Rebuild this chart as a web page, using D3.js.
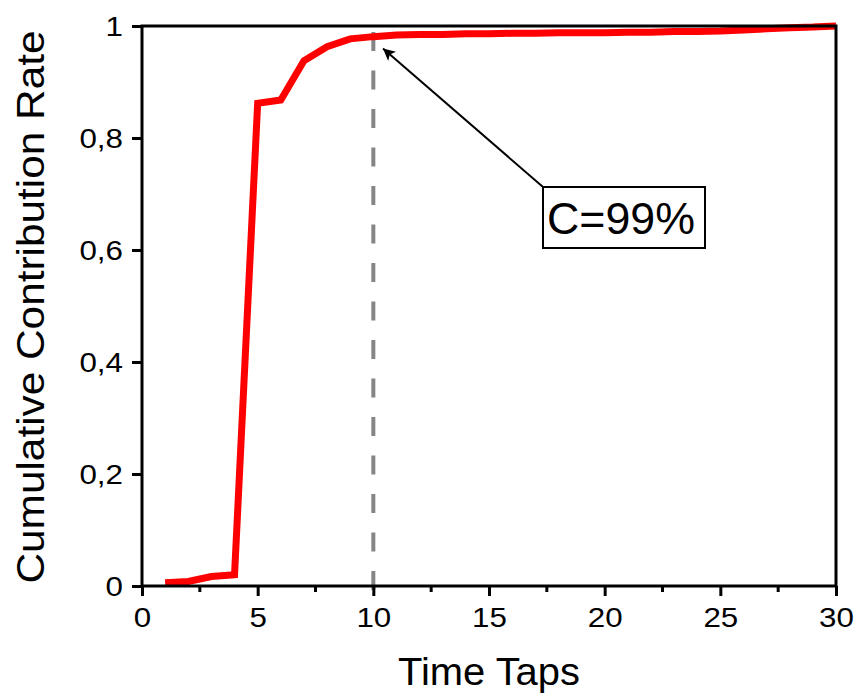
<!DOCTYPE html>
<html><head><meta charset="utf-8">
<script src="https://cdn.jsdelivr.net/npm/d3@7"></script>
<style>body{margin:0;background:#fff}svg{display:block}</style>
</head><body>
<script>
const timeTaps = [1,2,3,4,5,6,7,8,9,10,11,12,13,14,15,16,17,18,19,20,21,22,23,24,25,26,27,28,29,30];
const cumRate = [0.006,0.008,0.017,0.02,0.862,0.868,0.938,0.963,0.977,0.981,0.984,0.985,0.985,0.986,0.986,0.987,0.987,0.988,0.988,0.988,0.989,0.989,0.990,0.990,0.991,0.993,0.995,0.997,0.998,1.0];
const xTicks = [0,5,10,15,20,25,30];
const yTicks = [0,0.2,0.4,0.6,0.8,1];
const thresholdX = 10;
const annotation = "C=99%";

const W=858,H=696;
const svg=d3.select("body").append("svg").attr("width",W).attr("height",H);
const L=142,R=836,T=26,B=586;
const x=d3.scaleLinear().domain([0,30]).range([L,R]);
const y=d3.scaleLinear().domain([0,1]).range([B,T]);
const font="Liberation Sans, Arial, sans-serif";

// dashed threshold line (drawn from bottom up)
svg.append("line").attr("x1",x(thresholdX)).attr("x2",x(thresholdX)).attr("y1",B+4).attr("y2",T)
  .attr("stroke","#858585").attr("stroke-width",4).attr("stroke-dasharray","19,19.5");

// curve
svg.append("path").datum(timeTaps.map((t,i)=>[t,cumRate[i]]))
  .attr("d",d3.line().x(d=>x(d[0])).y(d=>y(d[1])))
  .attr("fill","none").attr("stroke","#ff0000").attr("stroke-width",7).attr("stroke-linejoin","miter");

// frame
svg.append("rect").attr("x",L).attr("y",T).attr("width",R-L).attr("height",B-T)
  .attr("fill","none").attr("stroke","#000").attr("stroke-width",3);

function stretch(sel,f){
  sel.each(function(){const n=this.getComputedTextLength();d3.select(this).attr("textLength",n*f).attr("lengthAdjust","spacingAndGlyphs");});
}

// x axis
const xa=svg.append("g").attr("transform",`translate(0,${B})`)
  .call(d3.axisBottom(x).tickValues(xTicks).tickSize(10).tickPadding(11).tickFormat(d3.format("d")));
xa.select(".domain").remove();
xa.selectAll(".tick line").attr("stroke-width",3);
xa.selectAll("text").attr("font-family",font).attr("font-size",28.5).attr("fill","#000").call(stretch,1.1);
const minorX=d3.range(2.5,30,5);
svg.append("g").selectAll("line").data(minorX).join("line")
  .attr("x1",d=>x(d)).attr("x2",d=>x(d)).attr("y1",B).attr("y2",B+6)
  .attr("stroke","#000").attr("stroke-width",3);

// y axis
const ya=svg.append("g").attr("transform",`translate(${L},0)`)
  .call(d3.axisLeft(y).tickValues(yTicks).tickSize(10).tickFormat(d=>d===0||d===1?String(d):d3.format(".1f")(d).replace(".",",")));
ya.select(".domain").remove();
ya.selectAll(".tick line").attr("stroke-width",3);
ya.selectAll("text").attr("font-family",font).attr("font-size",28.5).attr("fill","#000").attr("x",-19).attr("dy","0.33em").call(stretch,1.1);

// axis titles
svg.append("text").attr("x",489).attr("y",685).attr("text-anchor","middle")
  .attr("font-family",font).attr("font-size",38).attr("textLength",182).attr("lengthAdjust","spacingAndGlyphs").text("Time Taps");
svg.append("text").attr("transform",`translate(44,${(T+B)/2+1}) rotate(-90)`).attr("text-anchor","middle")
  .attr("font-family",font).attr("font-size",38).attr("textLength",553).attr("lengthAdjust","spacingAndGlyphs")
  .text("Cumulative Contribution Rate");

// annotation arrow
const defs=svg.append("defs");
defs.append("marker").attr("id","ah").attr("viewBox","0 0 10 10").attr("refX",10).attr("refY",5)
  .attr("markerWidth",16).attr("markerHeight",12).attr("markerUnits","userSpaceOnUse")
  .attr("orient","auto")
  .append("path").attr("d","M0,0 L10,5 L0,10 L2.5,5 Z").attr("fill","#000");
svg.append("line").attr("x1",543).attr("y1",187).attr("x2",383).attr("y2",48.5)
  .attr("stroke","#000").attr("stroke-width",2).attr("marker-end","url(#ah)");
svg.append("rect").attr("x",543).attr("y",187).attr("width",162).attr("height",61)
  .attr("fill","#fff").attr("stroke","#000").attr("stroke-width",2);
svg.append("text").attr("x",621).attr("y",234).attr("text-anchor","middle")
  .attr("font-family",font).attr("font-size",45).attr("textLength",148).attr("lengthAdjust","spacingAndGlyphs").text(annotation);
</script>
</body></html>
